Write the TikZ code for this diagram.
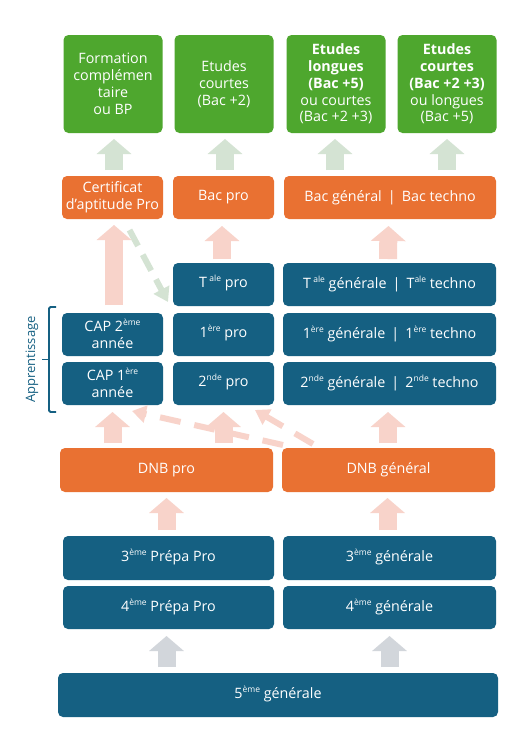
\documentclass[tikz,border=0pt]{standalone}
\usepackage{fontspec}
\setmainfont{Open Sans}
\usetikzlibrary{calc,arrows.meta}
\definecolor{cblue}{HTML}{156082}
\definecolor{corange}{HTML}{E97132}
\definecolor{cgreen}{HTML}{4EA72E}
\definecolor{cpink}{HTML}{F8D3CA}
\definecolor{cpale}{HTML}{D4E3D3}
\definecolor{cgrey}{HTML}{D2D6DB}
\newcommand{\supr}[1]{\raisebox{0.42em}[0pt][0pt]{\fontsize{8.5}{8.5}\selectfont #1}}
\begin{document}
\begin{tikzpicture}[x=1pt,y=-1pt,
  box/.style={rounded corners=5pt, inner sep=0pt, outer sep=0pt, align=center,
    text=white, font=\fontsize{14.3}{16.8}\selectfont, minimum height=43pt},
  gbox/.style={box, fill=cgreen, minimum width=99pt, minimum height=98pt},
  obox/.style={box, fill=corange},
  bbox/.style={box, fill=cblue},
  blockarrow/.style={line width=18pt, -{Triangle[width=34pt,length=15pt]}},
  garr/.style={blockarrow, draw=cpale},
  parr/.style={blockarrow, draw=cpink},
  grarr/.style={blockarrow, draw=cgrey},
  pdash/.style={draw=cpink, line width=6pt, dash pattern=on 21pt off 14pt, -{Triangle[width=17pt,length=14pt]}},
  gdash/.style={draw=cpale, line width=6pt, dash pattern=on 18pt off 10pt, -{Triangle[width=17pt,length=14pt]}},
]
\useasboundingbox[fill=white] (0,0) rectangle (530,750);

% top green row
\node[gbox] (g1) at (113,84) {Formation\\complémen\\taire\\ou BP};
\node[gbox] (g2) at (224,84) {Etudes\\courtes\\(Bac +2)};
\node[gbox] (g3) at (336,84) {\textbf{Etudes}\\\textbf{longues}\\\textbf{(Bac +5)}\\ou courtes\\(Bac +2 +3)};
\node[gbox] (g4) at (447,84) {\textbf{Etudes}\\\textbf{courtes}\\\textbf{(Bac +2 +3)}\\ou longues\\(Bac +5)};

% orange diplomas
\node[obox, minimum width=101pt] (o1) at (112.5,197.5) {Certificat\\d’aptitude Pro};
\node[obox, minimum width=101pt] (o2) at (223.5,197.5) {Bac pro};
\node[obox, minimum width=212pt] (o3) at (390,197.5) {Bac général \,|\, Bac techno};

% lycee
\node[bbox, minimum width=101pt] (tp) at (223.5,284.5) {T\,\supr{ale} pro};
\node[bbox, minimum width=213pt] (tg) at (389.5,284.5) {T\,\supr{ale} générale \,|\, T\supr{ale} techno};
\node[bbox, minimum width=101pt] (cap2) at (112.5,334.5) {CAP 2\supr{ème}\\année};
\node[bbox, minimum width=101pt] (p1) at (223.5,334.5) {1\supr{ère} pro};
\node[bbox, minimum width=213pt] (ge1) at (389.5,334.5) {1\supr{ère} générale \,|\, 1\supr{ère} techno};
\node[bbox, minimum width=101pt] (cap1) at (112.5,383.5) {CAP 1\supr{ère}\\année};
\node[bbox, minimum width=101pt] (p2) at (223.5,383.5) {2\supr{nde} pro};
\node[bbox, minimum width=213pt] (ge2) at (389.5,383.5) {2\supr{nde} générale \,|\, 2\supr{nde} techno};

% DNB
\node[obox, minimum width=213pt, minimum height=44pt] (dp) at (166.5,470) {DNB pro};
\node[obox, minimum width=213pt, minimum height=44pt] (dg) at (388.5,470) {DNB général};

% college
\node[bbox, minimum width=211pt, minimum height=44pt] (t3p) at (168.5,558) {3\supr{ème} Prépa Pro};
\node[bbox, minimum width=213pt, minimum height=44pt] (t3g) at (389.5,558) {3\supr{ème} générale};
\node[bbox, minimum width=211pt] (t4p) at (168.5,607.5) {4\supr{ème} Prépa Pro};
\node[bbox, minimum width=213pt] (t4g) at (389.5,607.5) {4\supr{ème} générale};
\node[bbox, minimum width=440pt, minimum height=44pt] (t5) at (278,695) {5\supr{ème} générale};

% apprentissage bracket
\coordinate (bt) at ($(cap2.north west)+(-13pt,6pt)$);
\coordinate (bb) at ($(cap1.south west)+(-13pt,-7pt)$);
\coordinate (bm) at ($(bt)!0.5!(bb)$);
\draw[cblue, line width=1.8pt, rounded corners=1.5pt] ($(bt)+(7pt,0)$) -- (bt) -- (bb) -- ($(bb)+(7pt,0)$);
\draw[cblue, line width=1.8pt] (bm) -- ($(bm)+(-7pt,0)$);
\node[rotate=90, text=cblue, inner sep=0pt, font=\fontsize{13}{15}\selectfont] (appr) at ($(bm)+(-17pt,0)$) {Apprentissage};

% dashed arrows
\draw[gdash] ($(o1.south)+(17pt,-11pt)$) -- ($(tp.south west)+(-5pt,4pt)$);
\draw[pdash] ($(dg.north west)+(1pt,3pt)$) -- ($(cap1.south east)+(-31pt,-6pt)$);
\draw[pdash] ($(dg.north west)+(31pt,4pt)$) -- ($(p2.south east)+(-19pt,-5pt)$);

% green arrows
\draw[garr] ($(g1.south |- o1.north)+(1pt,6pt)$) -- ($(g1.south)+(1pt,-6pt)$);
\draw[garr] ($(g2.south |- o2.north)+(1pt,6pt)$) -- ($(g2.south)+(1pt,-6pt)$);
\draw[garr] ($(g3.south |- o3.north)+(-1pt,6pt)$) -- ($(g3.south)+(-1pt,-6pt)$);
\draw[garr] ($(g4.south |- o3.north)+(0,6pt)$) -- ($(g4.south)+(0,-6pt)$);

% pink arrows
\draw[parr] ($(cap2.north)+(1.5pt,8pt)$) -- ($(o1.south)+(1.5pt,-6pt)$);
\draw[parr] ($(tp.north)+(-1.5pt,4pt)$) -- ($(o2.south |- tp.north)+(-1.5pt,37pt)$);
\draw[parr] ($(tg.north)+(-1.5pt,4pt)$) -- ($(o3.south |- tg.north)+(-1.5pt,37pt)$);
\draw[parr] ($(cap1.south |- dp.north)+(0,5pt)$) -- ($(cap1.south)+(0,-7pt)$);
\draw[parr] ($(p2.south |- dp.north)+(0,5pt)$) -- ($(p2.south)+(0,-7pt)$);
\draw[parr] ($(ge2.south |- dg.north)+(-1.5pt,5pt)$) -- ($(ge2.south)+(-1.5pt,-7pt)$);
\draw[parr] ($(dp.south |- t3p.north)+(0,6pt)$) -- ($(dp.south)+(0,-6pt)$);
\draw[parr] ($(dg.south |- t3g.north)+(-1pt,6pt)$) -- ($(dg.south)+(-1pt,-6pt)$);

% grey arrows
\draw[grarr] ($(t4p.south |- t5.north)+(-2pt,6pt)$) -- ($(t4p.south)+(-2pt,-7pt)$);
\draw[grarr] ($(t4g.south |- t5.north)+(0,6pt)$) -- ($(t4g.south)+(0,-7pt)$);
\end{tikzpicture}
\end{document}
